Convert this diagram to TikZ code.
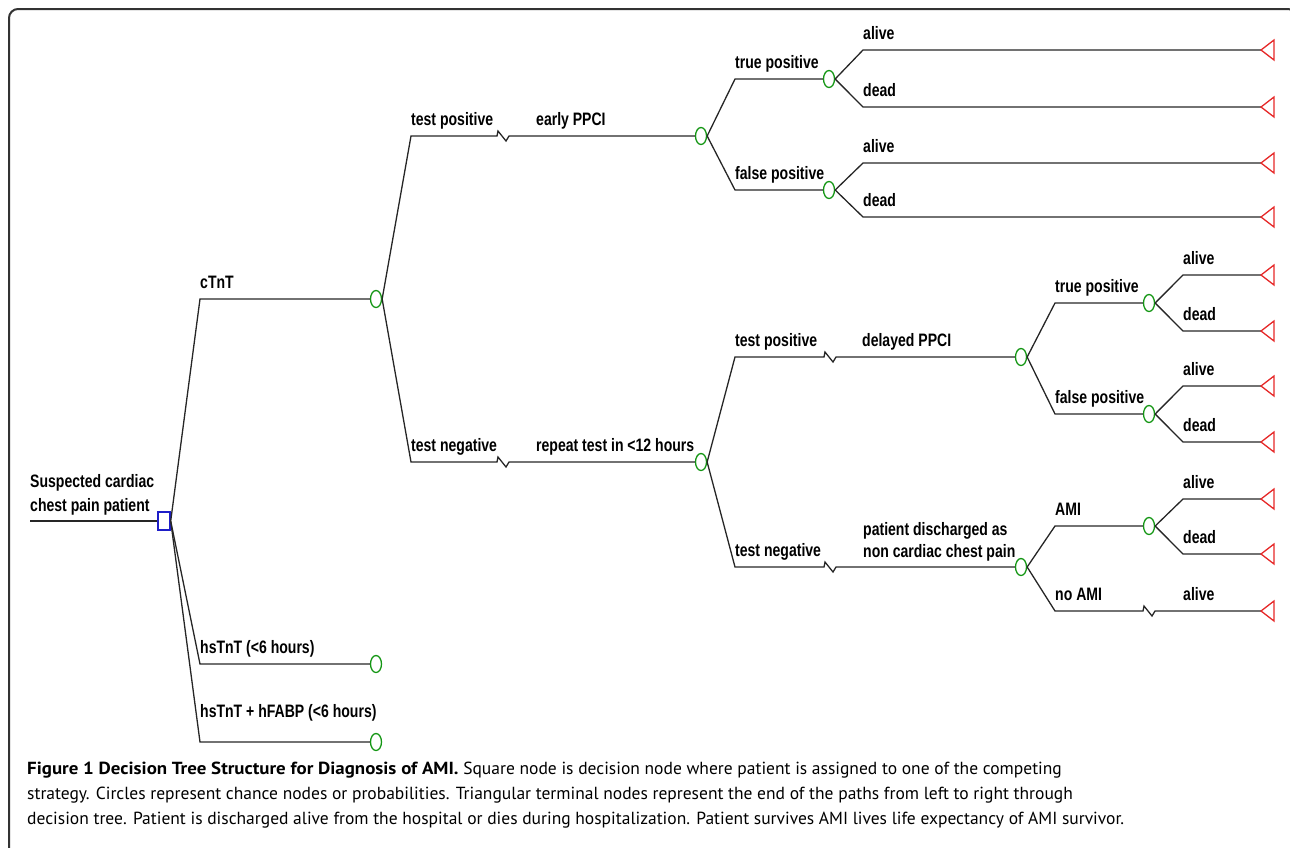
\documentclass[tikz,border=0pt]{standalone}
\usepackage{fontspec}
\usetikzlibrary{shapes.geometric}
\newfontfamily\labfont{Liberation Sans}[FakeStretch=0.78]
\newfontfamily\capfont{PT Sans}
\newfontfamily\capbold{PT Sans Bold}[FakeStretch=1.08]
\definecolor{chgreen}{RGB}{20,150,20}
\definecolor{decblue}{RGB}{30,30,200}
\definecolor{termred}{RGB}{230,40,40}
\begin{document}
\begin{tikzpicture}[x=1pt,y=-1pt,
  lab/.style={font=\labfont\bfseries\fontsize{18}{22}\selectfont, anchor=base west, inner sep=0},
  br/.style={line width=1.3pt, draw=black!85},
  chance/.style={draw=chgreen, ellipse, line width=1.3pt, minimum width=11pt, minimum height=17pt, inner sep=0},
  decision/.style={draw=decblue, rectangle, line width=1.4pt, minimum width=12pt, minimum height=18pt, inner sep=0},
  term/.style={draw=termred, line width=1.3pt, line join=miter},
  capt/.style={font=\capfont\fontsize{17.5}{25}\selectfont, anchor=base west, inner sep=0}
]
\useasboundingbox (0,0) rectangle (1290,847);
\clip (0,0) rectangle (1290,847);
\draw[line width=2pt, draw=black!80, rounded corners=9pt] (9,9) rectangle (1297,900);

% root
\coordinate (r0) at (30,521);
\node[decision] (D) at (164,521) {};
\draw[br] (r0) -- (D.west);
\node[lab] at (30,487) {Suspected cardiac};
\node[lab] at (30,511) {chest pain patient};

% strategies
\coordinate (e1) at (200,299);
\node[chance] (C1) at (376,299) {};
\draw[br] (D.east) -- (e1) -- (C1.west);
\node[lab] at (200,288) {cTnT};

\coordinate (e2) at (200,664);
\node[chance] (C2) at (376,664) {};
\draw[br] (D.east) -- (e2) -- (C2.west);
\node[lab] at (200,653) {hsTnT (<6 hours)};

\coordinate (e3) at (200,742);
\node[chance] (C3) at (376,742) {};
\draw[br] (D.east) -- (e3) -- (C3.west);
\node[lab] at (200,717) {hsTnT + hFABP (<6 hours)};

% cTnT subtree
\coordinate (e4) at (411,136);
\node[chance] (E1) at (701,136) {};
\draw[br] (C1.east) -- (e4) -- ++(86,0) -- ++(1,-5) -- ++(8,10) -- ++(3,-5) -- (E1.west);
\node[lab] at (411,125) {test positive};
\node[lab] at (536,125) {early PPCI};

\coordinate (e5) at (411,462);
\node[chance] (R) at (701,462) {};
\draw[br] (C1.east) -- (e5) -- ++(86,0) -- ++(1,-5) -- ++(8,10) -- ++(3,-5) -- (R.west);
\node[lab] at (411,451) {test negative};
\node[lab] at (536,451) {repeat test in <12 hours};

% early PPCI subtree
\coordinate (e6) at (735,79);
\node[chance] (TP1) at (829,79) {};
\draw[br] (E1.east) -- (e6) -- (TP1.west);
\node[lab] at (735,68) {true positive};
\coordinate (e7) at (735,190);
\node[chance] (FP1) at (829,190) {};
\draw[br] (E1.east) -- (e7) -- (FP1.west);
\node[lab] at (735,179) {false positive};

\coordinate (a1) at (863,50);  \coordinate (T1) at (1261,50);
\coordinate (a2) at (863,107); \coordinate (T2) at (1261,107);
\coordinate (a3) at (863,163); \coordinate (T3) at (1261,163);
\coordinate (a4) at (863,217); \coordinate (T4) at (1261,217);
\draw[br] (TP1.east) -- (a1) -- (T1);
\draw[br] (TP1.east) -- (a2) -- (T2);
\draw[br] (FP1.east) -- (a3) -- (T3);
\draw[br] (FP1.east) -- (a4) -- (T4);
\node[lab] at (863,39) {alive};
\node[lab] at (863,96) {dead};
\node[lab] at (863,152) {alive};
\node[lab] at (863,206) {dead};

% repeat test subtree
\coordinate (e8) at (735,357);
\node[chance] (DP) at (1021,357) {};
\draw[br] (R.east) -- (e8) -- ++(89,0) -- ++(1,-5) -- ++(8,10) -- ++(3,-5) -- (DP.west);
\node[lab] at (735,346) {test positive};
\node[lab] at (862,346) {delayed PPCI};

\coordinate (e9) at (735,567);
\node[chance] (PD) at (1021,567) {};
\draw[br] (R.east) -- (e9) -- ++(89,0) -- ++(1,-5) -- ++(8,10) -- ++(3,-5) -- (PD.west);
\node[lab] at (735,556) {test negative};
\node[lab] at (863,535) {patient discharged as};
\node[lab] at (863,557) {non cardiac chest pain};

% delayed PPCI subtree
\coordinate (e10) at (1055,303);
\node[chance] (TP2) at (1149,303) {};
\draw[br] (DP.east) -- (e10) -- (TP2.west);
\node[lab] at (1055,292) {true positive};
\coordinate (e11) at (1055,414);
\node[chance] (FP2) at (1149,414) {};
\draw[br] (DP.east) -- (e11) -- (FP2.west);
\node[lab] at (1055,403) {false positive};

\coordinate (a5) at (1183,275); \coordinate (T5) at (1261,275);
\coordinate (a6) at (1183,331); \coordinate (T6) at (1261,331);
\coordinate (a7) at (1183,386); \coordinate (T7) at (1261,386);
\coordinate (a8) at (1183,442); \coordinate (T8) at (1261,442);
\draw[br] (TP2.east) -- (a5) -- (T5);
\draw[br] (TP2.east) -- (a6) -- (T6);
\draw[br] (FP2.east) -- (a7) -- (T7);
\draw[br] (FP2.east) -- (a8) -- (T8);
\node[lab] at (1183,264) {alive};
\node[lab] at (1183,320) {dead};
\node[lab] at (1183,375) {alive};
\node[lab] at (1183,431) {dead};

% discharged subtree
\coordinate (e12) at (1055,526);
\node[chance] (A) at (1149,526) {};
\draw[br] (PD.east) -- (e12) -- (A.west);
\node[lab] at (1055,515) {AMI};
\coordinate (e13) at (1055,611);
\coordinate (T9) at (1261,611);
\draw[br] (PD.east) -- (e13) -- ++(88,0) -- ++(1,-5) -- ++(8,10) -- ++(3,-5) -- (T9);
\node[lab] at (1055,600) {no AMI};
\node[lab] at (1183,600) {alive};

\coordinate (a10) at (1183,499); \coordinate (T10) at (1261,499);
\coordinate (a11) at (1183,554); \coordinate (T11) at (1261,554);
\draw[br] (A.east) -- (a10) -- (T10);
\draw[br] (A.east) -- (a11) -- (T11);
\node[lab] at (1183,488) {alive};
\node[lab] at (1183,543) {dead};

% terminals
\foreach \t in {T1,T2,T3,T4,T5,T6,T7,T8,T9,T10,T11}
  \draw[term] (\t) -- ++(13,-10) -- ++(0,20) -- cycle;

% caption
\node[capt] (cap1) at (27,774) {{\capbold Figure 1 Decision Tree Structure for Diagnosis of AMI.} Square node is decision node where patient is assigned to one of the competing};
\node[capt] (cap2) at (27,799) {strategy. Circles represent chance nodes or probabilities. Triangular terminal nodes represent the end of the paths from left to right through};
\node[capt] (cap3) at (27,824) {decision tree. Patient is discharged alive from the hospital or dies during hospitalization. Patient survives AMI lives life expectancy of AMI survivor.};
\end{tikzpicture}
\end{document}
